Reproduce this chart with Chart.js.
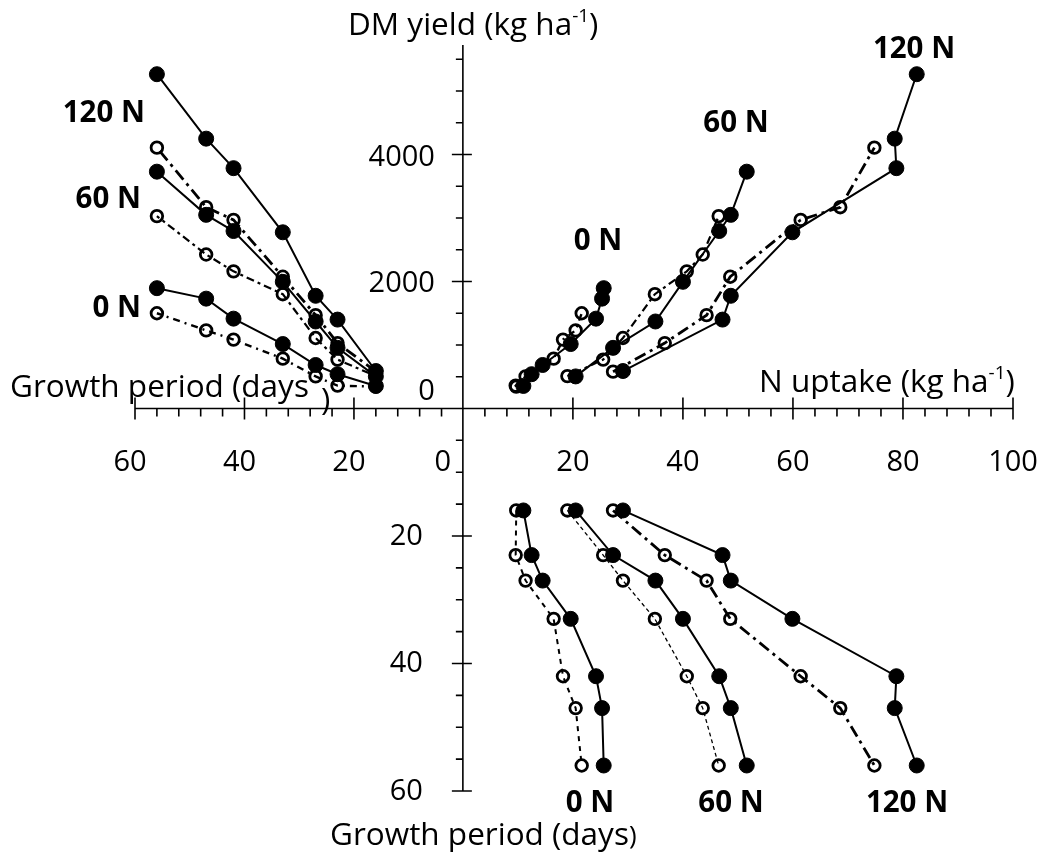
<!DOCTYPE html>
<html lang="en">
<head>
<meta charset="UTF-8" />
<title>DM yield, N uptake and growth period</title>
<script src="https://cdn.jsdelivr.net/npm/chart.js"></script>
<style>
  html, body { margin: 0; background: #fff; }
  #wrap { width: 1042px; height: 854px; }
</style>
</head>
<body>
<div id="wrap"><canvas id="chart" width="1042" height="854"></canvas></div>
<script>
// growth period of each harvest (days)
const growthDays = [16, 23, 27, 33, 42, 47, 56];

// DM yield (kg/ha), filled = solid line, open = broken line
const dm0Fill   = [355, 540, 685, 1015, 1415, 1730, 1895];
const dm0Open   = [345, 360, 505, 785, 1085, 1230, 1500];
const dm60Fill  = [505, 955, 1370, 1995, 2795, 3050, 3730];
const dm60Open  = [510, 770, 1110, 1800, 2160, 2425, 3030];
const dm120Fill = [590, 1400, 1775, 2775, 3785, 4250, 5265];
const dm120Open = [580, 1030, 1470, 2075, 2970, 3170, 4108];

// N uptake (kg/ha)
const n0Fill   = [11.0, 12.5, 14.5, 19.6, 24.2, 25.3, 25.6];
const n0Open   = [9.7, 9.6, 11.4, 16.5, 18.2, 20.5, 21.6];
const n60Fill  = [20.5, 27.3, 35.0, 40.0, 46.6, 48.7, 51.6];
const n60Open  = [19.0, 25.5, 29.1, 34.9, 40.7, 43.6, 46.5];
const n120Fill = [29.1, 47.2, 48.7, 59.9, 78.8, 78.5, 82.5];
const n120Open = [27.3, 36.7, 44.3, 48.6, 61.4, 68.6, 74.8];

// tick labels
const leftDayLabels = [60, 40, 20];
const uptakeLabels = [20, 40, 60, 80, 100];
const dmLabels = [0, 2000, 4000];
const downDayLabels = [20, 40, 60];

const FONT = '"Open Sans", sans-serif';

function series(xs, ys, xAxisID, yAxisID, open, dash, width) {
  return {
    data: xs.map((x, i) => ({ x: x, y: ys[i] })),
    xAxisID: xAxisID,
    yAxisID: yAxisID,
    showLine: true,
    borderColor: '#000',
    borderWidth: width,
    borderDash: dash,
    pointRadius: open ? 5.8 : 7.5,
    pointBorderWidth: open ? 2.8 : 1,
    pointBorderColor: '#000',
    pointBackgroundColor: open ? 'rgba(0,0,0,0)' : '#000',
    clip: false
  };
}

const SOLID = [];
const DASH_120 = [12, 5, 3, 5];
const DASH_60 = [3, 4, 8, 4];
const DASH_0 = [7, 5, 2, 5];

const datasets = [
  // DM yield vs growth period (upper left)
  series(growthDays, dm0Open, 'xL', 'yU', true, DASH_0, 2.4),
  series(growthDays, dm0Fill, 'xL', 'yU', false, SOLID, 2),
  series(growthDays, dm60Open, 'xL', 'yU', true, DASH_60, 2.2),
  series(growthDays, dm60Fill, 'xL', 'yU', false, SOLID, 2),
  series(growthDays, dm120Open, 'xL', 'yU', true, DASH_120, 2.8),
  series(growthDays, dm120Fill, 'xL', 'yU', false, SOLID, 2),
  // DM yield vs N uptake (upper right)
  series(n0Open, dm0Open, 'xR', 'yU', true, DASH_0, 2.4),
  series(n0Fill, dm0Fill, 'xR', 'yU', false, SOLID, 2),
  series(n60Open, dm60Open, 'xR', 'yU', true, DASH_60, 2.2),
  series(n60Fill, dm60Fill, 'xR', 'yU', false, SOLID, 2),
  series(n120Open, dm120Open, 'xR', 'yU', true, DASH_120, 2.8),
  series(n120Fill, dm120Fill, 'xR', 'yU', false, SOLID, 2),
  // growth period vs N uptake (lower right)
  series(n0Open, growthDays, 'xR', 'yD', true, [5, 5], 2),
  series(n0Fill, growthDays, 'xR', 'yD', false, SOLID, 2),
  series(n60Open, growthDays, 'xR', 'yD', true, [4, 3], 1.3),
  series(n60Fill, growthDays, 'xR', 'yD', false, SOLID, 2),
  series(n120Open, growthDays, 'xR', 'yD', true, DASH_120, 2.8),
  series(n120Fill, growthDays, 'xR', 'yD', false, SOLID, 2)
];

// treatment names written next to the curves
const treatmentNotes = [
  { text: '120 N', x: 145, y: 122, align: 'right' },
  { text: '60 N', x: 141, y: 208, align: 'right' },
  { text: '0 N', x: 141, y: 317, align: 'right' },
  { text: '0 N', x: 598, y: 250, align: 'center' },
  { text: '60 N', x: 736, y: 132, align: 'center' },
  { text: '120 N', x: 914, y: 58, align: 'center' },
  { text: '0 N', x: 590, y: 812, align: 'center' },
  { text: '60 N', x: 731, y: 812, align: 'center' },
  { text: '120 N', x: 907, y: 812, align: 'center' }
];

const crossAxes = {
  id: 'crossAxes',
  beforeDatasetsDraw(chart) {
    const { ctx } = chart;
    const { xL, xR, yU, yD } = chart.scales;
    const ox = xR.getPixelForValue(0);
    const oy = yU.getPixelForValue(0);
    ctx.save();
    ctx.strokeStyle = '#000';
    ctx.lineWidth = 1.6;
    ctx.beginPath();
    ctx.moveTo(xL.getPixelForValue(60), oy);
    ctx.lineTo(xR.getPixelForValue(100), oy);
    ctx.moveTo(ox, yU.getPixelForValue(yU.max));
    ctx.lineTo(ox, yD.getPixelForValue(60));
    // horizontal axis ticks
    for (let d = 4; d <= 60; d += 4) {
      const x = xL.getPixelForValue(d);
      ctx.moveTo(x, d % 20 === 0 ? oy - 11 : oy);
      ctx.lineTo(x, d % 20 === 0 ? oy + 11 : oy + 8);
    }
    for (let n = 4; n <= 100; n += 4) {
      const x = xR.getPixelForValue(n);
      ctx.moveTo(x, n % 20 === 0 ? oy - 11 : oy);
      ctx.lineTo(x, n % 20 === 0 ? oy + 11 : oy + 8);
    }
    // vertical axis ticks
    for (let v = 500; v <= 5500; v += 500) {
      const y = yU.getPixelForValue(v);
      ctx.moveTo(v % 2000 === 0 ? ox - 11 : ox - 7, y);
      ctx.lineTo(v % 2000 === 0 ? ox + 9 : ox, y);
    }
    for (let d = 5; d <= 60; d += 5) {
      const y = yD.getPixelForValue(d);
      ctx.moveTo(d % 20 === 0 ? ox - 11 : ox - 7, y);
      ctx.lineTo(d % 20 === 0 ? ox + 9 : ox, y);
    }
    ctx.stroke();

    ctx.fillStyle = '#000';
    ctx.font = '29px ' + FONT;
    ctx.textBaseline = 'alphabetic';
    ctx.textAlign = 'center';
    leftDayLabels.forEach(v => ctx.fillText(String(v), xL.getPixelForValue(v) - 5, oy + 63));
    uptakeLabels.forEach(v => ctx.fillText(String(v), xR.getPixelForValue(v), oy + 63));
    ctx.fillText('0', ox - 20, oy + 63);
    ctx.textAlign = 'right';
    dmLabels.forEach(v => {
      const y = yU.getPixelForValue(v) + (v === 0 ? -8 : 11);
      ctx.fillText(String(v), ox - 28, y);
    });
    downDayLabels.forEach(v => ctx.fillText(String(v), ox - 40, yD.getPixelForValue(v) + 9));
    ctx.restore();
  },
  afterDraw(chart) {
    const { ctx } = chart;
    ctx.save();
    ctx.fillStyle = '#000';
    ctx.textBaseline = 'alphabetic';

    ctx.font = 'bold 29.5px ' + FONT;
    treatmentNotes.forEach(t => {
      ctx.textAlign = t.align;
      ctx.fillText(t.text, t.x, t.y);
    });

    ctx.font = '31.5px ' + FONT;
    ctx.textAlign = 'left';
    ctx.fillText('Growth period (days', 10, 397);
    ctx.fillText(')', 321, 410);
    ctx.fillText('Growth period (days', 330, 845);
    const w = ctx.measureText('Growth period (days').width;
    ctx.font = '26px ' + FONT;
    ctx.fillText(')', 330 + w, 844);
    drawUnitTitle(ctx, 'DM yield (kg ha', 348, 35);
    drawUnitTitle(ctx, 'N uptake (kg ha', 759, 392);
    ctx.restore();
  }
};

// title text ending in ha^-1)
function drawUnitTitle(ctx, text, x, y) {
  ctx.font = '31.5px ' + FONT;
  ctx.textAlign = 'left';
  ctx.fillText(text, x, y);
  let cx = x + ctx.measureText(text).width;
  ctx.font = '19px ' + FONT;
  ctx.fillText('-1', cx, y - 13);
  cx += ctx.measureText('-1').width;
  ctx.font = '31.5px ' + FONT;
  ctx.fillText(')', cx, y);
}

new Chart(document.getElementById('chart').getContext('2d'), {
  type: 'scatter',
  data: { datasets: datasets },
  options: {
    responsive: false,
    animation: false,
    layout: { padding: { left: 135, top: 45, right: 29, bottom: 63 } },
    plugins: { legend: { display: false }, tooltip: { enabled: false } },
    scales: {
      xL: { axis: 'x', type: 'linear', reverse: true, min: -100.4, max: 60, display: false },
      xR: { axis: 'x', type: 'linear', min: -59.6, max: 100, display: false },
      yU: { axis: 'y', type: 'linear', min: -6025, max: 5725, display: false },
      yD: { axis: 'y', type: 'linear', reverse: true, min: -57, max: 60, display: false }
    }
  },
  plugins: [crossAxes]
});
</script>
</body>
</html>
